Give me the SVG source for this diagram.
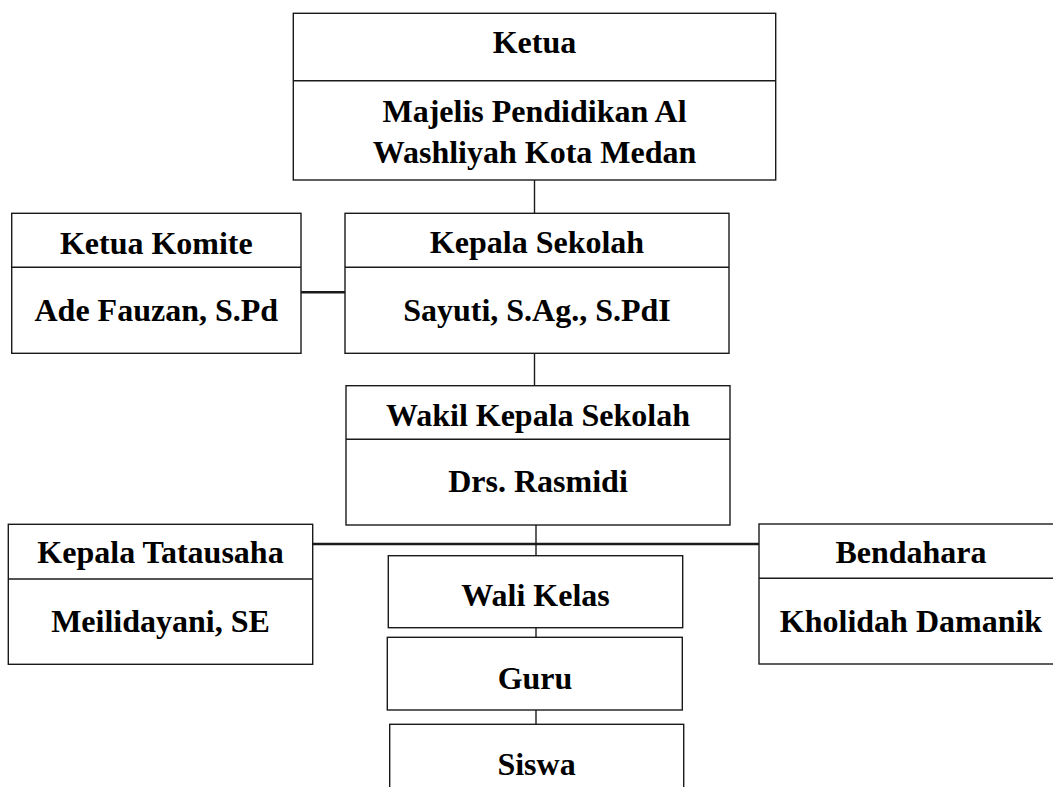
<svg xmlns="http://www.w3.org/2000/svg" width="1053" height="787" viewBox="0 0 1053 787">
<style>
.box{fill:#fff;stroke:#1a1a1a;stroke-width:1.4}
.div{stroke:#1a1a1a;stroke-width:1.4}
.t{font-family:"Liberation Serif","Times New Roman",serif;font-weight:bold;font-size:32px;fill:#000;text-anchor:middle}
.c{stroke:#1a1a1a;stroke-width:1.4;fill:none}
.ct{stroke:#1a1a1a;stroke-width:2.6;fill:none}
</style>
<rect width="1053" height="787" fill="#fff"/>
<g id="connectors">
<line class="c" x1="534.5" y1="180" x2="534.5" y2="213"/>
<line class="ct" x1="301" y1="292.3" x2="345" y2="292.3"/>
<line class="c" x1="534.5" y1="353" x2="534.5" y2="386"/>
<line class="c" x1="536" y1="525" x2="536" y2="556"/>
<line class="ct" x1="312.7" y1="544" x2="759" y2="544"/>
<line class="c" x1="536" y1="627.7" x2="536" y2="637.3"/>
<line class="c" x1="536" y1="710" x2="536" y2="724.3"/>
</g>
<g id="ketua">
<rect class="box" x="293.3" y="13.3" width="482.4" height="166.7"/>
<line class="div" x1="293.3" y1="80.7" x2="775.7" y2="80.7"/>
<text class="t" x="534.5" y="53.3">Ketua</text>
<text class="t" x="534.5" y="121.7">Majelis Pendidikan Al</text>
<text class="t" x="534.5" y="162.7">Washliyah Kota Medan</text>
</g>
<g id="ketua-komite">
<rect class="box" x="11.7" y="213.3" width="289.3" height="140"/>
<line class="div" x1="11.7" y1="267.3" x2="301" y2="267.3"/>
<text class="t" x="156.3" y="254">Ketua Komite</text>
<text class="t" x="156.3" y="320.7">Ade Fauzan, S.Pd</text>
</g>
<g id="kepala-sekolah">
<rect class="box" x="345" y="213.3" width="384" height="140"/>
<line class="div" x1="345" y1="267.3" x2="729" y2="267.3"/>
<text class="t" x="537" y="253.3">Kepala Sekolah</text>
<text class="t" x="537" y="320.7">Sayuti, S.Ag., S.PdI</text>
</g>
<g id="wakil-kepala-sekolah">
<rect class="box" x="346" y="385.7" width="384" height="139.3"/>
<line class="div" x1="346" y1="439.3" x2="730" y2="439.3"/>
<text class="t" x="538" y="425.7">Wakil Kepala Sekolah</text>
<text class="t" x="538" y="492.3">Drs. Rasmidi</text>
</g>
<g id="kepala-tatausaha">
<rect class="box" x="8.3" y="524.3" width="304.4" height="140"/>
<line class="div" x1="8.3" y1="579" x2="312.7" y2="579"/>
<text class="t" x="160.5" y="563.3">Kepala Tatausaha</text>
<text class="t" x="160.5" y="632.3">Meilidayani, SE</text>
</g>
<g id="bendahara">
<rect class="box" x="759" y="524" width="304" height="140"/>
<line class="div" x1="759" y1="578.3" x2="1063" y2="578.3"/>
<text class="t" x="911" y="563.3">Bendahara</text>
<text class="t" x="911" y="631.7">Kholidah Damanik</text>
</g>
<g id="wali-kelas">
<rect class="box" x="388.3" y="555.7" width="294.4" height="72"/>
<text class="t" x="535.5" y="606">Wali Kelas</text>
</g>
<g id="guru">
<rect class="box" x="387.3" y="637.3" width="295" height="72.7"/>
<text class="t" x="535" y="689">Guru</text>
</g>
<g id="siswa">
<rect class="box" x="389.7" y="724.3" width="294" height="80"/>
<text class="t" x="536.5" y="775">Siswa</text>
</g>
</svg>
